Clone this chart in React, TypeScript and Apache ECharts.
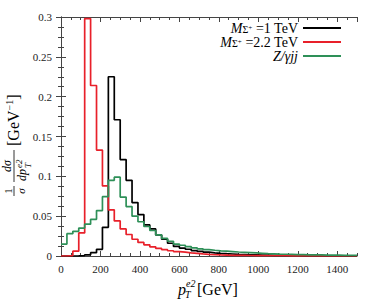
import React, { useEffect, useRef } from "react";
import * as echarts from "echarts";

const FONT = '"Liberation Serif", "DejaVu Serif", serif';
const BIN_WIDTH = 30; // GeV
const X_MAX = 1500;
const Y_MAX = 0.3;

const seriesNames = ["M_Σ+ =1 TeV", "M_Σ+ =2.2 TeV", "Z/γjj"];
const seriesColors = ["#000000", "#e8202a", "#2e9058"];

// bin contents (bins of 30 GeV from 0 to 1500)
const blackValues = [
  0, 0, 0.0002, 0.0005, 0.0015, 0.0042, 0.0084, 0.036, 0.225, 0.171,
  0.121, 0.095, 0.067, 0.052, 0.039, 0.034, 0.0265, 0.021, 0.016, 0.012,
  0.01, 0.0085, 0.0068, 0.0057, 0.0048, 0.004, 0.0034, 0.0029, 0.0025, 0.0021,
  0.0018, 0.0015, 0.0013, 0.0011, 0.001, 0.0009, 0.0008, 0.0007, 0.0006, 0.0006,
  0.0005, 0.0005, 0.0004, 0.0004, 0.0003, 0.0003, 0.0003, 0.0002, 0.0002, 0.0002,
];
const redValues = [
  0, 0.0005, 0.006, 0.029, 0.298, 0.214, 0.133, 0.088, 0.058, 0.044,
  0.034, 0.027, 0.021, 0.017, 0.014, 0.0115, 0.0095, 0.008, 0.0066, 0.0056,
  0.0048, 0.004, 0.0033, 0.0026, 0.002, 0.0016, 0.0013, 0.0011, 0.0009, 0.0008,
  0.0007, 0.0006, 0.0005, 0.0004, 0.0004, 0.0003, 0.0003, 0.0003, 0.0002, 0.0002,
  0.0002, 0.0002, 0.0001, 0.0001, 0.0001, 0.0001, 0.0001, 0.0001, 0.0001, 0.0001,
];
const greenValues = [
  0.015, 0.028, 0.031, 0.035, 0.04, 0.046, 0.057, 0.0745, 0.095, 0.099,
  0.074, 0.062, 0.05, 0.043, 0.037, 0.032, 0.0265, 0.022, 0.0185, 0.015,
  0.0135, 0.0118, 0.0102, 0.009, 0.008, 0.0072, 0.0065, 0.006, 0.0055, 0.005,
  0.0046, 0.0042, 0.0038, 0.0034, 0.003, 0.0027, 0.0024, 0.0022, 0.002, 0.0018,
  0.0017, 0.0015, 0.0014, 0.0013, 0.0012, 0.0011, 0.001, 0.0009, 0.0009, 0.0008,
];

const legendLabels: Record<string, string> = {
  "M_Σ+ =1 TeV": "{i|M}{s|Σ}{p|+}{n| =1 TeV}",
  "M_Σ+ =2.2 TeV": "{i|M}{s|Σ}{p|+}{n| =2.2 TeV}",
  "Z/γjj": "{i|Z/γjj}",
};

function toSteps(values: number[]) {
  const pts = values.map((v, i) => [i * BIN_WIDTH, v]);
  pts.push([values.length * BIN_WIDTH, values[values.length - 1]]);
  return pts;
}

const AXIS_COLOR = "#444";

export default function App() {
  const ref = useRef<HTMLDivElement>(null);
  useEffect(() => {
    if (!ref.current) return;
    const chart = echarts.init(ref.current, null, { renderer: "svg" });
    const allValues = [blackValues, redValues, greenValues];
    const baseX = {
      type: "value",
      min: 0,
      max: X_MAX,
      splitLine: { show: false },
      axisLine: { show: true, lineStyle: { color: AXIS_COLOR, width: 1 } },
    };
    const baseY = {
      type: "value",
      min: 0,
      max: Y_MAX,
      interval: 0.05,
      splitLine: { show: false },
      axisLine: { show: true, lineStyle: { color: AXIS_COLOR, width: 1 } },
      axisTick: { show: true, inside: true, length: 5, lineStyle: { color: AXIS_COLOR } },
      minorTick: { show: true, splitNumber: 4, length: 3, lineStyle: { color: AXIS_COLOR } },
    };
    chart.setOption({
      animation: false,
      backgroundColor: "#ffffff",
      grid: { left: 61, right: 25, top: 17, bottom: 44, containLabel: false },
      legend: {
        orient: "vertical",
        align: "right",
        right: 41,
        top: 21,
        padding: 0,
        itemGap: 0,
        itemWidth: 38,
        itemHeight: 2,
        icon: "rect",
        data: seriesNames,
        formatter: (name: string) => legendLabels[name] || name,
        textStyle: {
          fontFamily: FONT,
          fontSize: 14,
          color: "#000",
          lineHeight: 13.5,
          rich: {
            i: { fontFamily: FONT, fontSize: 14, fontStyle: "italic", lineHeight: 13.5, color: "#000" },
            n: { fontFamily: FONT, fontSize: 14, lineHeight: 13.5, color: "#000" },
            s: { fontFamily: FONT, fontSize: 10, lineHeight: 8, verticalAlign: "bottom", color: "#000" },
            p: { fontFamily: FONT, fontSize: 7, lineHeight: 7, verticalAlign: "middle", color: "#000" },
          },
        },
      },
      xAxis: [
        {
          ...baseX,
          position: "bottom",
          interval: 200,
          axisTick: { show: true, inside: true, length: 5, lineStyle: { color: AXIS_COLOR } },
          axisLabel: {
            show: true,
            margin: 7,
            fontFamily: FONT,
            fontSize: 11,
            color: "#222",
            showMaxLabel: false,
            formatter: (v: number) => String(v),
          },
        },
        {
          ...baseX,
          position: "bottom",
          interval: 50,
          axisLine: { show: false },
          axisTick: { show: true, inside: true, length: 3, lineStyle: { color: AXIS_COLOR } },
          axisLabel: { show: false },
        },
        {
          ...baseX,
          position: "top",
          interval: 200,
          axisTick: { show: true, inside: true, length: 5, lineStyle: { color: AXIS_COLOR } },
          axisLabel: { show: false },
        },
        {
          ...baseX,
          position: "top",
          interval: 50,
          axisLine: { show: false },
          axisTick: { show: true, inside: true, length: 3, lineStyle: { color: AXIS_COLOR } },
          axisLabel: { show: false },
        },
      ],
      yAxis: [
        {
          ...baseY,
          position: "left",
          axisLabel: { show: true, margin: 9, fontFamily: FONT, fontSize: 11, color: "#222" },
        },
        {
          ...baseY,
          position: "right",
          axisLabel: { show: false },
        },
      ],
      series: allValues.map((vals, k) => ({
        type: "line",
        name: seriesNames[k],
        data: toSteps(vals),
        step: "end",
        symbol: "none",
        color: seriesColors[k],
        lineStyle: { width: 1.7, color: seriesColors[k] },
        xAxisIndex: 0,
        yAxisIndex: 0,
        clip: true,
        z: 2 + k,
      })),
      graphic: [
        // y-axis title, rotated (reads bottom to top)
        {
          type: "group",
          x: 14,
          y: 197,
          rotation: Math.PI / 2,
          children: [
            { type: "text", style: { text: "1", x: 6, y: -1, textAlign: "center", textVerticalAlign: "bottom", fontFamily: FONT, fontSize: 11, fill: "#000" } },
            { type: "line", shape: { x1: 1, y1: 0, x2: 11, y2: 0 }, style: { stroke: "#000", lineWidth: 0.8 } },
            { type: "text", style: { text: "σ", x: 6, y: 1, textAlign: "center", textVerticalAlign: "top", fontFamily: FONT, fontStyle: "italic", fontSize: 11, fill: "#000" } },

            { type: "text", style: { text: "dσ", x: 31, y: -1, textAlign: "center", textVerticalAlign: "bottom", fontFamily: FONT, fontStyle: "italic", fontSize: 12, fill: "#000" } },
            { type: "line", shape: { x1: 15, y1: 0, x2: 47, y2: 0 }, style: { stroke: "#000", lineWidth: 0.8 } },
            { type: "text", style: { text: "dp", x: 16, y: 2, textAlign: "left", textVerticalAlign: "top", fontFamily: FONT, fontStyle: "italic", fontSize: 12, fill: "#000" } },
            { type: "text", style: { text: "e2", x: 29, y: 4.5, textAlign: "left", textVerticalAlign: "middle", fontFamily: FONT, fontStyle: "italic", fontSize: 9, fill: "#000" } },
            { type: "text", style: { text: "T", x: 29, y: 14, textAlign: "left", textVerticalAlign: "middle", fontFamily: FONT, fontStyle: "italic", fontSize: 9, fill: "#000" } },

            {
              type: "text",
              style: {
                text: "{a|[GeV}{b|−1}{a|]}",
                x: 51,
                y: -1,
                textAlign: "left",
                textVerticalAlign: "middle",
                fontFamily: FONT,
                fontSize: 16,
                fill: "#000",
                rich: {
                  a: { fontFamily: FONT, fontSize: 16, lineHeight: 18, fill: "#000" },
                  b: { fontFamily: FONT, fontSize: 10, lineHeight: 9, verticalAlign: "top", fill: "#000" },
                },
              },
            },
          ],
        },
        // x-axis title
        { type: "text", style: { text: "p", x: 178, y: 289, textAlign: "left", textVerticalAlign: "middle", fontFamily: FONT, fontStyle: "italic", fontSize: 16, fill: "#000" } },
        { type: "text", style: { text: "e2", x: 186, y: 283, textAlign: "left", textVerticalAlign: "middle", fontFamily: FONT, fontStyle: "italic", fontSize: 10, fill: "#000" } },
        { type: "text", style: { text: "T", x: 185, y: 294, textAlign: "left", textVerticalAlign: "middle", fontFamily: FONT, fontStyle: "italic", fontSize: 10, fill: "#000" } },
        { type: "text", style: { text: "[GeV]", x: 197, y: 289, textAlign: "left", textVerticalAlign: "middle", fontFamily: FONT, fontSize: 16, fill: "#000" } },
      ],
    });
    return () => chart.dispose();
  }, []);
  return (
    <div
      ref={ref}
      style={{ position: "fixed", left: 0, top: 0, width: 382, height: 300, background: "#fff" }}
    />
  );
}
